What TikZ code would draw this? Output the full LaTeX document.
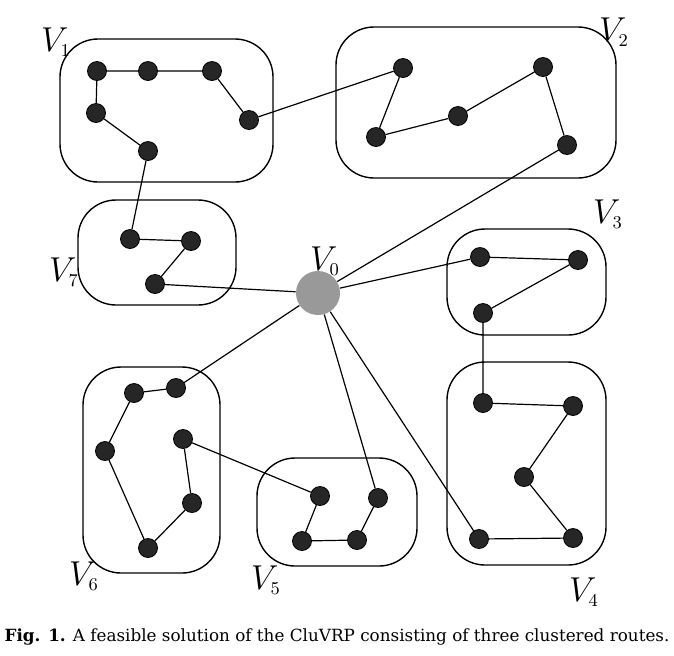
\documentclass[tikz,border=0pt]{standalone}
\usepackage{fontspec}
\usepackage{amsmath}
\newfontfamily\capfont{DejaVu Serif}

\tikzset{
  cust/.style={draw=black, fill=black!85, circle, inner sep=0pt, minimum size=9.5pt},
  depot/.style={fill=black!40, circle, inner sep=0pt, minimum size=22pt},
  cluster/.style={draw=black, line width=0.7pt, rounded corners=19pt},
  route/.style={line width=0.6pt},
  lbl/.style={font=\fontsize{18}{20}\selectfont, inner sep=0pt}
}

\begin{document}
\begin{tikzpicture}[x=0.5pt, y=-0.5pt]
  \useasboundingbox (0,0) rectangle (674,655);

  % clusters
  \draw[cluster] (60,39) rectangle (273,182);
  \draw[cluster] (336,27) rectangle (616,178);
  \draw[cluster] (447,229) rectangle (606,335);
  \draw[cluster] (447,362) rectangle (606,565);
  \draw[cluster] (257,458) rectangle (417,566);
  \draw[cluster] (83,367) rectangle (220,573);
  \draw[cluster] (78,200) rectangle (236,305);

  % depot
  \node[depot] (v0) at (318,293) {};

  % customers
  \node[cust] (a1) at (97,71) {};
  \node[cust] (a2) at (148,71) {};
  \node[cust] (a3) at (212,71) {};
  \node[cust] (a4) at (249,120) {};
  \node[cust] (a5) at (96,113) {};
  \node[cust] (a6) at (148,151) {};

  \node[cust] (b1) at (403,68) {};
  \node[cust] (b2) at (376,137) {};
  \node[cust] (b3) at (458,116) {};
  \node[cust] (b4) at (543,67) {};
  \node[cust] (b5) at (567,145) {};

  \node[cust] (c1) at (480,257) {};
  \node[cust] (c2) at (578,260) {};
  \node[cust] (c3) at (483,313) {};

  \node[cust] (d1) at (483,403) {};
  \node[cust] (d2) at (573,406) {};
  \node[cust] (d3) at (524,477) {};
  \node[cust] (d4) at (573,538) {};
  \node[cust] (d5) at (479,539) {};

  \node[cust] (e1) at (320,496) {};
  \node[cust] (e2) at (302,541) {};
  \node[cust] (e3) at (357,540) {};
  \node[cust] (e4) at (378,498) {};

  \node[cust] (f1) at (176,388) {};
  \node[cust] (f2) at (134,393) {};
  \node[cust] (f3) at (105,451) {};
  \node[cust] (f4) at (148,548) {};
  \node[cust] (f5) at (192,503) {};
  \node[cust] (f6) at (183,439) {};

  \node[cust] (g1) at (130,239) {};
  \node[cust] (g2) at (191,241) {};
  \node[cust] (g3) at (155,284) {};

  % routes
  \draw[route] (v0) -- (g3) -- (g2) -- (g1) -- (a6) -- (a5) -- (a1) -- (a2) -- (a3) -- (a4)
    -- (b1) -- (b2) -- (b3) -- (b4) -- (b5) -- (v0);
  \draw[route] (v0) -- (c1) -- (c2) -- (c3) -- (d1) -- (d2) -- (d3) -- (d4) -- (d5) -- (v0);
  \draw[route] (v0) -- (f1) -- (f2) -- (f3) -- (f4) -- (f5) -- (f6)
    -- (e1) -- (e2) -- (e3) -- (e4) -- (v0);

  % cluster labels
  \node[lbl] (l0) at (325,261) {$V_{\scriptscriptstyle 0}$};
  \node[lbl] (l1) at (56,42) {$V_{\scriptscriptstyle 1}$};
  \node[lbl] (l2) at (614,32) {$V_{\scriptscriptstyle 2}$};
  \node[lbl] (l3) at (608,214) {$V_{\scriptscriptstyle 3}$};
  \node[lbl] (l4) at (584,592) {$V_{\scriptscriptstyle 4}$};
  \node[lbl] (l5) at (266,580) {$V_{\scriptscriptstyle 5}$};
  \node[lbl] (l6) at (84,576) {$V_{\scriptscriptstyle 6}$};
  \node[lbl] (l7) at (64,272) {$V_{\scriptscriptstyle 7}$};

  % caption
  \node[font=\capfont\fontsize{8.4}{10}\selectfont, inner sep=0pt] (cap) at (337,637)
    {\textbf{Fig. 1.} A feasible solution of the CluVRP consisting of three clustered routes.};
\end{tikzpicture}
\end{document}
